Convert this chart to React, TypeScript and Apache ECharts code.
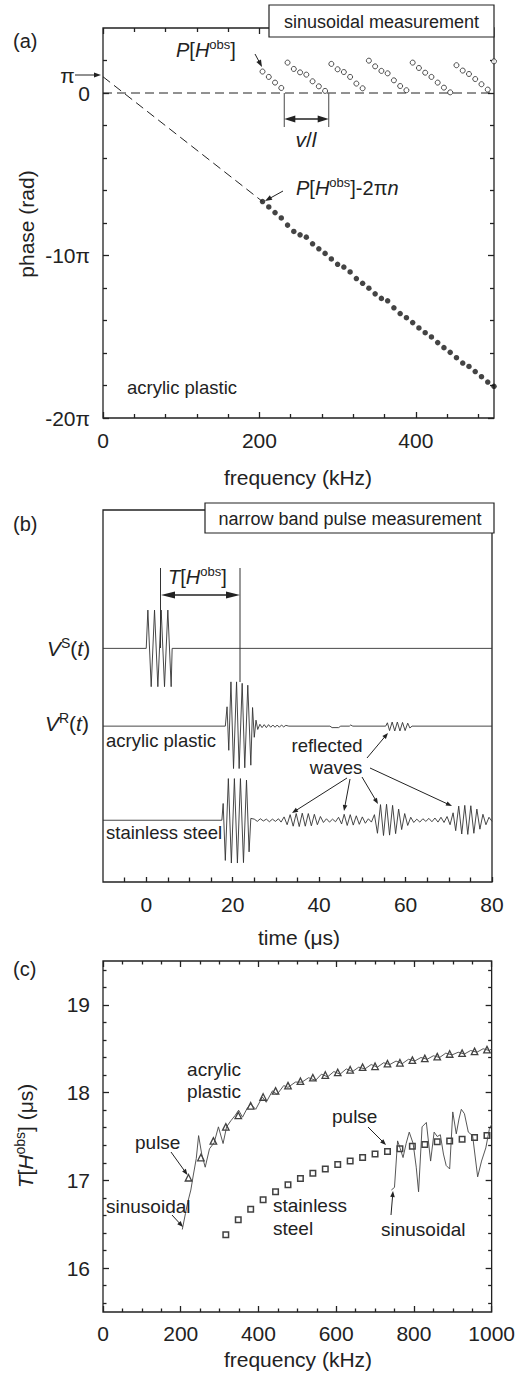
import React, { useEffect, useRef } from "react";
import * as echarts from "echarts";

const FONT = '"Liberation Sans", Arial, sans-serif';
const INK = "#222";

// ---------------- Panel (a): phase vs frequency (phase in units of π) ----------------
const phaseFreq = [204, 212, 220, 228, 236, 244, 252, 260, 268, 276, 284, 292, 300, 308, 316, 324, 332, 340, 348, 356, 364, 372, 380, 388, 396, 404, 412, 420, 428, 436, 444, 452, 460, 468, 476, 484, 492, 500];
const phaseWrapped = [1.32, 0.99, 0.64, 0.31, 1.87, 1.48, 1.27, 1.13, 0.72, 0.41, 0.13, 1.79, 1.46, 1.29, 0.99, 0.58, 0.29, 1.99, 1.64, 1.36, 1.21, 0.78, 0.43, 0.17, 1.87, 1.54, 1.25, 0.99, 0.64, 0.33, 0.04, 1.71, 1.38, 1.17, 0.86, 0.54, 0.21, 1.95];
const phaseUnwrapped = [-6.68, -7.01, -7.36, -7.69, -8.13, -8.52, -8.73, -8.87, -9.28, -9.59, -9.87, -10.21, -10.54, -10.71, -11.01, -11.42, -11.71, -12.01, -12.36, -12.64, -12.79, -13.22, -13.57, -13.83, -14.13, -14.46, -14.75, -15.01, -15.36, -15.67, -15.96, -16.29, -16.62, -16.83, -17.14, -17.46, -17.79, -18.05];
const extrapolation = [[0, 1], [204, -6.68]];
const zeroLine = [[0, 0], [500, 0]];
const freqATicksMajor = [0, 200, 400];
const freqATicksMinor = [40, 80, 120, 160, 240, 280, 320, 360, 440, 480];
const phaseTicksMajor = [-20, -10, 0];
const phaseTicksMinor = [-18, -16, -14, -12, -8, -6, -4, -2, 2];

// ---------------- Panel (b): waveforms (time µs, amplitude a.u.) ----------------
const timeTicksMajor = [0, 20, 40, 60, 80];
const timeTicksMinor = [-5, 5, 10, 15, 25, 30, 35, 45, 50, 55, 65, 70, 75];
const baseSource = 62.8;
const baseAcrylic = 41.9;
const baseSteel = 16.6;
const sourceWave = [[-10, 0], [0, 0], [0.38, 10.3], [1.15, -10.3], [1.92, 10.3], [2.69, -10.3], [3.46, 10.3], [4.23, -10.3], [5.0, 10.3], [5.77, -10.3], [6.0, 0], [80, 0]];
const acrylicWave = [[-10, 0], [18.3, 0], [18.7, 5.2], [19.1, -6.5], [19.6, 11.9], [20.2, -11.4], [20.9, 11.9], [21.5, -11.4], [22.2, 11.5], [22.8, -11.2], [23.5, 11], [24.2, -10.5], [24.6, 5], [25.0, -3], [25.4, 1.6], [25.8, -0.9], [26.3, 0.5], [26.8, -0.4], [27.3, 0.4], [27.8, -0.4], [28.3, 0.4], [28.8, -0.3], [29.3, 0.3], [29.8, -0.3], [30.3, 0.3], [30.8, -0.3], [31.3, 0.3], [31.8, -0.2], [32.3, 0.2], [33, 0], [42.5, 0], [43, -0.4], [44.5, -0.4], [45, 0], [47, 0], [47.3, 0.3], [47.8, 0], [55.4, 0], [55.8, 0.9], [56.3, -1.2], [56.9, 1.1], [57.5, -1.3], [58.1, 1.1], [58.7, -1.3], [59.3, 1.0], [59.9, -1.2], [60.5, 0.8], [61, -0.5], [61.5, 0], [80, 0]];
const steelWave = [[-10, 0], [17.5, 0], [17.8, 4.5], [18.3, -10.8], [19.0, 11.2], [19.7, -11.5], [20.4, 11.2], [21.1, -11.5], [21.8, 11.2], [22.5, -11.4], [23.2, 10.8], [23.8, -8.5], [24.2, 0.5], [25, 0.3], [25.7, -0.3], [26.4, 0.4], [27.1, -0.2], [27.8, 0.3], [28.5, -0.4], [29.2, 0.3], [29.9, -0.3], [30.6, 0.4], [31.2, -0.5], [31.9, 0.9], [32.6, -1.2], [33.3, 1.5], [34.0, -1.6], [34.7, 1.8], [35.4, -1.7], [36.1, 1.9], [36.8, -1.6], [37.5, 1.8], [38.2, -1.5], [38.9, 1.6], [39.6, -1.2], [40.3, 1.0], [41, -0.6], [41.7, 0.4], [42.4, -0.5], [43.1, 0.3], [43.8, -0.4], [44.5, 0.8], [45.2, -1.0], [45.8, 1.6], [46.5, -1.4], [47.2, 1.5], [47.9, -1.3], [48.6, 1.2], [49.3, -1.1], [50, 0.9], [50.7, -0.8], [51.4, 0.4], [52.1, -0.5], [52.8, 1.5], [53.5, -3.5], [54.2, 4.2], [54.9, -4.1], [55.6, 4.3], [56.3, -4.0], [57, 4.0], [57.7, -3.6], [58.4, 3.0], [59.1, -2.5], [59.8, 1.8], [60.5, -1.4], [61.2, 0.8], [61.9, -0.6], [62.6, 0.3], [63.3, -0.5], [64, 0.4], [64.7, -0.3], [65.4, 0.5], [66.1, -0.4], [66.8, 0.6], [67.5, -0.5], [68.2, 0.8], [68.9, -0.6], [69.6, 1.0], [70.3, -1.2], [71, 2.0], [71.6, -2.8], [72.3, 3.8], [73, -3.7], [73.7, 4.0], [74.4, -3.8], [75.1, 3.9], [75.8, -3.5], [76.5, 3.0], [77.2, -2.4], [77.9, 1.6], [78.6, -1.2], [79.3, 0.8], [80, -0.3]];

// ---------------- Panel (c): group delay T[H^obs] (µs) vs frequency (kHz) ----------------
const freqCTicksMajor = [0, 200, 400, 600, 800, 1000];
const freqCTicksMinor = [50, 100, 150, 250, 300, 350, 450, 500, 550, 650, 700, 750, 850, 900, 950];
const delayTicksMajor = [16, 17, 18, 19];
const delayTicksMinor = [15.6, 15.8, 16.2, 16.4, 16.6, 16.8, 17.2, 17.4, 17.6, 17.8, 18.2, 18.4, 18.6, 18.8, 19.2, 19.4];
const pulseFreqAcrylic = [220, 252, 284, 316, 348, 380, 412, 444, 476, 508, 540, 572, 604, 636, 668, 700, 732, 764, 796, 828, 860, 892, 924, 956, 988];
const pulseDelayAcrylic = [17.03, 17.26, 17.45, 17.61, 17.74, 17.85, 17.95, 18.02, 18.08, 18.13, 18.17, 18.20, 18.23, 18.26, 18.29, 18.30, 18.33, 18.34, 18.37, 18.39, 18.41, 18.44, 18.45, 18.47, 18.49];
const pulseFreqSteel = [316, 348, 380, 412, 444, 476, 508, 540, 572, 604, 636, 668, 700, 732, 764, 796, 828, 860, 892, 924, 956, 988];
const pulseDelaySteel = [16.38, 16.55, 16.67, 16.78, 16.87, 16.95, 17.02, 17.08, 17.13, 17.18, 17.22, 17.26, 17.30, 17.33, 17.36, 17.39, 17.41, 17.44, 17.45, 17.47, 17.49, 17.51];
const sinAcrylic = [[204, 16.44], [212, 16.62], [218, 16.75], [226, 16.89], [232, 17.05], [240, 17.25], [246, 17.51], [254, 17.30], [263, 17.15], [274, 17.36], [286, 17.43], [297, 17.61], [309, 17.42], [318, 17.61], [329, 17.68], [340, 17.74], [349, 17.80], [359, 17.72], [372, 17.83], [380, 17.87], [393, 17.81], [410, 17.95], [420, 17.89], [436, 18.02], [448, 17.98], [465, 18.08], [476, 18.06], [495, 18.12], [512, 18.12], [529, 18.17], [547, 18.14], [562, 18.21], [578, 18.18], [594, 18.24], [610, 18.21], [626, 18.27], [642, 18.24], [658, 18.29], [674, 18.27], [690, 18.32], [706, 18.29], [722, 18.34], [738, 18.32], [754, 18.36], [770, 18.33], [786, 18.38], [802, 18.36], [818, 18.40], [834, 18.38], [850, 18.42], [866, 18.40], [882, 18.45], [898, 18.43], [914, 18.46], [930, 18.44], [946, 18.48], [962, 18.46], [978, 18.50], [994, 18.48], [1000, 18.50]];
const sinSteel = [[742, 16.89], [750, 16.92], [758, 17.45], [765, 17.36], [772, 17.26], [780, 17.42], [788, 17.55], [798, 17.42], [806, 17.15], [812, 16.87], [821, 17.61], [832, 17.66], [843, 17.22], [852, 17.55], [860, 17.50], [868, 17.52], [876, 17.30], [883, 17.17], [892, 17.13], [900, 17.78], [909, 17.53], [916, 17.70], [922, 17.81], [930, 17.76], [940, 17.55], [951, 17.51], [964, 17.04], [974, 17.22], [985, 17.37], [994, 17.58], [1000, 17.64]];

// ---------------- helpers ----------------
const xAxis: any[] = [];
const yAxis: any[] = [];
function addAxis(list: any[], gridIndex: number, min: number, max: number, position: string, ticks: number[], len: number, labels?: number[], fmt?: (v: number) => string, margin = 13) {
  list.push({
    gridIndex, type: "value", min, max, position,
    axisLine: { show: false, onZero: false },
    splitLine: { show: false },
    axisTick: { show: ticks.length > 0, inside: true, length: len, customValues: ticks, lineStyle: { color: INK, width: 1.3 } },
    axisLabel: labels
      ? { show: true, customValues: labels, formatter: fmt, fontSize: 21, fontFamily: FONT, color: INK, margin }
      : { show: false },
  });
  return list.length - 1;
}

function txt(text: string, x: number, y: number, size = 19, align = "left", extra: any = {}) {
  const rich = {
    i: { fontSize: size, fontFamily: FONT, fontStyle: "italic", fill: INK, lineHeight: size + 4 },
    n: { fontSize: size, fontFamily: FONT, fill: INK, lineHeight: size + 4 },
    s: { fontSize: Math.round(size * 0.66), fontFamily: FONT, fill: INK, verticalAlign: "top" },
  };
  return {
    type: "text", x, y, z: 110, ...extra,
    style: {
      text, fill: INK, fontSize: size, fontFamily: FONT,
      align, verticalAlign: "middle", textAlign: align, textVerticalAlign: "middle", rich,
    },
  };
}

function arrow(x1: number, y1: number, x2: number, y2: number, o: any = {}) {
  const hl = o.hl ?? 7, hw = o.hw ?? 2.6, both = !!o.both, color = o.color ?? INK, lw = o.lw ?? 1;
  const a = Math.atan2(y2 - y1, x2 - x1);
  const c = Math.cos(a), s = Math.sin(a);
  const head = (x: number, y: number, dc: number, ds: number) => ({
    type: "polygon", z: 111,
    shape: { points: [[x, y], [x - hl * dc - hw * ds, y - hl * ds + hw * dc], [x - hl * dc + hw * ds, y - hl * ds - hw * dc]] },
    style: { fill: color },
  });
  const els: any[] = [{
    type: "line", z: 110,
    shape: { x1: both ? x1 + hl * 0.5 * c : x1, y1: both ? y1 + hl * 0.5 * s : y1, x2: x2 - hl * 0.5 * c, y2: y2 - hl * 0.5 * s },
    style: { stroke: color, lineWidth: lw },
  }, head(x2, y2, c, s)];
  if (both) els.push(head(x1, y1, -c, -s));
  return els;
}
function seg(x1: number, y1: number, x2: number, y2: number, color = INK, lw = 1) {
  return { type: "line", z: 110, shape: { x1, y1, x2, y2 }, style: { stroke: color, lineWidth: lw } };
}

export default function App() {
  const ref = useRef<HTMLDivElement>(null);
  useEffect(() => {
    if (!ref.current) return;
    const chart = echarts.init(ref.current, null, { renderer: "svg" });
    xAxis.length = 0;
    yAxis.length = 0;

    const grid = [
      { left: 103, top: 28, width: 391, height: 390 },
      { left: 103, top: 510, width: 389, height: 372 },
      { left: 103, top: 961, width: 391, height: 351 },
    ].map((g) => ({ ...g, show: true, borderColor: INK, borderWidth: 1.3, backgroundColor: "transparent", containLabel: false }));

    // (a)
    const xa = addAxis(xAxis, 0, 0, 500, "bottom", freqATicksMajor, 6, freqATicksMajor, (v) => String(v), 12);
    addAxis(xAxis, 0, 0, 500, "bottom", freqATicksMinor, 4);
    addAxis(xAxis, 0, 0, 500, "top", freqATicksMajor, 6);
    addAxis(xAxis, 0, 0, 500, "top", freqATicksMinor, 4);
    const ya = addAxis(yAxis, 0, -20, 4, "left", phaseTicksMajor, 6, phaseTicksMajor, (v) => (v === 0 ? "0" : v + "π"), 13);
    addAxis(yAxis, 0, -20, 4, "left", phaseTicksMinor, 4);
    addAxis(yAxis, 0, -20, 4, "right", phaseTicksMajor, 6);
    addAxis(yAxis, 0, -20, 4, "right", phaseTicksMinor, 4);
    // (b)
    const xb = addAxis(xAxis, 1, -10, 80, "bottom", timeTicksMajor, 5, timeTicksMajor, (v) => String(v), 12);
    addAxis(xAxis, 1, -10, 80, "bottom", timeTicksMinor, 4.5);
    const yb = addAxis(yAxis, 1, 0, 100, "left", [], 0);
    // (c)
    const xc = addAxis(xAxis, 2, 0, 1000, "bottom", freqCTicksMajor, 6, freqCTicksMajor, (v) => String(v), 11);
    addAxis(xAxis, 2, 0, 1000, "bottom", freqCTicksMinor, 3.5);
    addAxis(xAxis, 2, 0, 1000, "top", freqCTicksMajor, 6);
    addAxis(xAxis, 2, 0, 1000, "top", freqCTicksMinor, 3.5);
    const yc = addAxis(yAxis, 2, 15.5, 19.5, "left", delayTicksMajor, 6, delayTicksMajor, (v) => String(v), 13);
    addAxis(yAxis, 2, 15.5, 19.5, "left", delayTicksMinor, 3.5);
    addAxis(yAxis, 2, 15.5, 19.5, "right", delayTicksMajor, 6);
    addAxis(yAxis, 2, 15.5, 19.5, "right", delayTicksMinor, 3.5);

    const lineBase = { type: "line", symbol: "none", silent: true, animation: false };
    const series: any[] = [
      { ...lineBase, xAxisIndex: xa, yAxisIndex: ya, data: zeroLine, lineStyle: { color: INK, width: 1, type: [9, 5] } },
      { ...lineBase, xAxisIndex: xa, yAxisIndex: ya, data: extrapolation, lineStyle: { color: INK, width: 1, type: [9, 5] } },
      { type: "scatter", xAxisIndex: xa, yAxisIndex: ya, data: phaseFreq.map((f, i) => [f, phaseWrapped[i]]), symbol: "circle", symbolSize: 5, itemStyle: { color: "#fff", borderColor: INK, borderWidth: 1 }, silent: true },
      { type: "scatter", xAxisIndex: xa, yAxisIndex: ya, data: phaseFreq.map((f, i) => [f, phaseUnwrapped[i]]), symbol: "circle", symbolSize: 5.5, itemStyle: { color: "#151515" }, silent: true },

      { ...lineBase, xAxisIndex: xb, yAxisIndex: yb, data: sourceWave.map(([t, a]) => [t, baseSource + a]), lineStyle: { color: "#333", width: 0.9 } },
      { ...lineBase, xAxisIndex: xb, yAxisIndex: yb, data: acrylicWave.map(([t, a]) => [t, baseAcrylic + a]), lineStyle: { color: "#333", width: 0.9 } },
      { ...lineBase, xAxisIndex: xb, yAxisIndex: yb, data: steelWave.map(([t, a]) => [t, baseSteel + a]), lineStyle: { color: "#333", width: 0.9 } },

      { ...lineBase, xAxisIndex: xc, yAxisIndex: yc, data: sinAcrylic, lineStyle: { color: "#444", width: 0.9 } },
      { ...lineBase, xAxisIndex: xc, yAxisIndex: yc, data: sinSteel, lineStyle: { color: "#444", width: 0.9 } },
      { type: "scatter", xAxisIndex: xc, yAxisIndex: yc, data: pulseFreqAcrylic.map((f, i) => [f, pulseDelayAcrylic[i]]), symbol: "triangle", symbolSize: 6.5, itemStyle: { color: "#fff", borderColor: "#111", borderWidth: 1.3 }, silent: true },
      { type: "scatter", xAxisIndex: xc, yAxisIndex: yc, data: pulseFreqSteel.map((f, i) => [f, pulseDelaySteel[i]]), symbol: "rect", symbolSize: 5.5, itemStyle: { color: "#fff", borderColor: "#111", borderWidth: 1.5 }, silent: true },
    ];

    const graphic: any[] = [
      // panel (a)
      txt("(a)", 13, 41, 20),
      { type: "rect", z: 105, shape: { x: 269, y: 5, width: 225, height: 32 }, style: { fill: "#fff", stroke: INK, lineWidth: 1.2 } },
      txt("sinusoidal measurement", 381.5, 21.5, 18, "center"),
      txt("π", 67.5, 75, 21, "center"),
      ...arrow(75, 75, 101, 75, { hl: 7, hw: 2.6 }),
      txt("{i|P}{n|[}{i|H}{s|obs}{n|]}", 176, 50, 20),
      ...arrow(255, 54, 262, 67),
      txt("{i|P}{n|[}{i|H}{s|obs}{n|]-2π}{i|n}", 296, 188, 20),
      ...arrow(283, 191, 265, 201),
      seg(284.3, 93, 284.3, 127, "#666", 1.2),
      seg(328.7, 93, 328.7, 127, "#666", 1.2),
      ...arrow(284.3, 119, 328.7, 119, { both: true, hl: 11, hw: 3.5, lw: 1.5 }),
      txt("{i|v}{n|/}{i|l}", 306, 139, 21, "center"),
      txt("acrylic plastic", 127, 387, 18.5),
      txt("phase (rad)", 26, 224, 21, "center", { rotation: Math.PI / 2 }),
      txt("frequency (kHz)", 298, 477, 21, "center"),

      // panel (b)
      txt("(b)", 13, 524, 20),
      { type: "rect", z: 105, shape: { x: 205, y: 503, width: 289, height: 30 }, style: { fill: "#fff", stroke: INK, lineWidth: 1.2 } },
      txt("narrow band pulse measurement", 350, 519, 18, "center"),
      seg(160.5, 568, 160.5, 648, "#333", 1),
      seg(240, 568, 240, 682, "#333", 1),
      ...arrow(161, 595, 240, 595, { both: true, hl: 14, hw: 3.5, lw: 1.5 }),
      txt("{i|T}{n|[}{i|H}{s|obs}{n|]}", 168, 577, 20),
      txt("{i|V}{s|S}{n|(}{i|t}{n|)}", 47, 648, 21),
      txt("{i|V}{s|R}{n|(}{i|t}{n|)}", 45, 723, 21),
      txt("acrylic plastic", 106, 740, 18.5),
      txt("stainless steel", 106, 832, 18.5),
      txt("reflected", 327, 745, 18.5, "center"),
      txt("waves", 336, 767, 18.5, "center"),
      ...arrow(367, 758, 388, 733, { hl: 6, hw: 2.3 }),
      ...arrow(347, 778, 292, 813, { hl: 6, hw: 2.3 }),
      ...arrow(350, 779, 344, 811, { hl: 6, hw: 2.3 }),
      ...arrow(362, 777, 378, 804, { hl: 6, hw: 2.3 }),
      ...arrow(370, 768, 452, 806, { hl: 6, hw: 2.3 }),
      txt("time (μs)", 299, 937, 21, "center"),

      // panel (c)
      txt("(c)", 13, 969, 20),
      txt("acrylic", 214, 1069, 19, "center"),
      txt("plastic", 214, 1091, 19, "center"),
      txt("pulse", 135, 1142, 19),
      ...arrow(171, 1152, 187.5, 1175, { hl: 6, hw: 2.3 }),
      txt("sinusoidal", 106, 1206, 19),
      ...arrow(172, 1215, 183, 1227, { hl: 6, hw: 2.3 }),
      txt("stainless", 273, 1205, 19),
      txt("steel", 273, 1228, 19),
      txt("pulse", 332, 1116, 19),
      ...arrow(368, 1127, 386, 1145, { hl: 6, hw: 2.3 }),
      txt("sinusoidal", 381, 1229, 19),
      ...arrow(391, 1215, 393, 1191, { hl: 6, hw: 2.3 }),
      txt("{i|T}{n|[}{i|H}{s|obs}{n|] (μs)}", 25, 1136, 21, "center", { rotation: Math.PI / 2 }),
      txt("frequency (kHz)", 298, 1359, 21, "center"),
    ];

    chart.setOption({
      animation: false,
      backgroundColor: "#fff",
      textStyle: { fontFamily: FONT },
      grid, xAxis, yAxis, series, graphic,
    });
    return () => chart.dispose();
  }, []);
  return <div ref={ref} style={{ position: "absolute", left: 0, top: 0, width: 518, height: 1378, background: "#fff" }} />;
}
